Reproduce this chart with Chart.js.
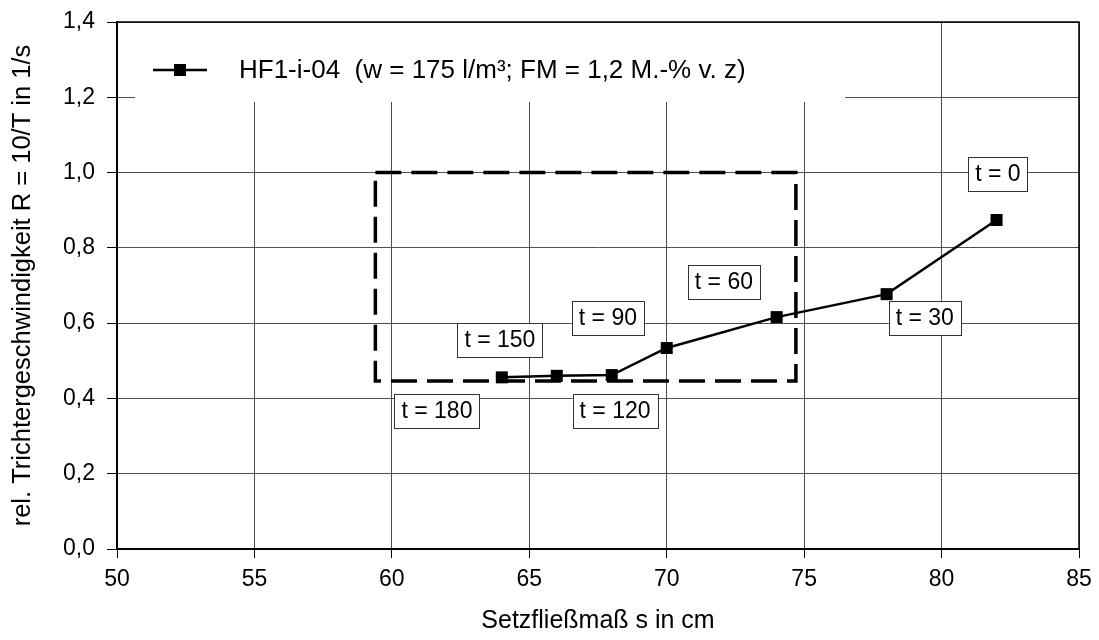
<!DOCTYPE html>
<html>
<head>
<meta charset="utf-8">
<script src="https://cdn.jsdelivr.net/npm/chart.js@4.4.1/dist/chart.umd.min.js"></script>
<style>
  html, body { margin: 0; padding: 0; background: #ffffff; }
  #wrap { width: 1099px; height: 640px; }
</style>
</head>
<body>
<div id="wrap"><canvas id="c" width="1099" height="640"></canvas></div>
<script>
// ---- data ----
const seriesName = "HF1-i-04  (w = 175 l/m³; FM = 1,2 M.-% v. z)";
const setzfliessmass = [64, 66, 68, 70, 74, 78, 82];          // x values (cm)
const trichterRate   = [0.456, 0.460, 0.462, 0.534, 0.616, 0.677, 0.874]; // y values (1/s)
const timeLabels     = ["t = 180", "t = 150", "t = 120", "t = 90", "t = 60", "t = 30", "t = 0"];
// label anchor positions in data units
const labelX = [61.64, 63.93, 68.12, 67.86, 72.08, 79.39, 82.05];
const labelY = [0.367, 0.555, 0.367, 0.614, 0.709, 0.614, 0.996];
// dashed region (data units)
const regionX = [59.4, 74.7];
const regionY = [0.446, 1.0];
const xTicks = { min: 50, max: 85, step: 5 };
const yTicks = { min: 0, max: 1.4, step: 0.2 };
const xTitle = "Setzfließmaß s in cm";
const yTitle = "rel. Trichtergeschwindigkeit R = 10/T in 1/s";

const FONT = "'Liberation Sans', Arial, sans-serif";
const points = setzfliessmass.map((x, i) => ({ x: x, y: trichterRate[i] }));

const decorPlugin = {
  id: 'decor',
  beforeDatasetsDraw(chart) {
    const ctx = chart.ctx;
    const xs = chart.scales.x, ys = chart.scales.y;
    const a = chart.chartArea;
    // plot frame
    ctx.save();
    ctx.strokeStyle = '#000';
    ctx.lineWidth = 1.5;
    ctx.strokeRect(a.left, a.top, a.right - a.left, a.bottom - a.top);
    ctx.restore();
    // legend box (white, hides grid)
    ctx.save();
    ctx.fillStyle = '#fff';
    ctx.fillRect(135, a.top + 1, 710, 79);
    // legend sample
    ctx.strokeStyle = '#000';
    ctx.lineWidth = 2.5;
    ctx.beginPath(); ctx.moveTo(153, 70); ctx.lineTo(207, 70); ctx.stroke();
    ctx.fillStyle = '#000';
    ctx.fillRect(174, 64, 12, 12);
    ctx.font = '26px ' + FONT;
    ctx.textBaseline = 'middle';
    ctx.textAlign = 'left';
    ctx.fillText(seriesName, 239, 71);
    ctx.restore();
    // dashed region
    ctx.save();
    ctx.strokeStyle = '#000';
    ctx.lineWidth = 3.5;
    ctx.setLineDash([26, 10]);
    const x0 = xs.getPixelForValue(regionX[0]), x1 = xs.getPixelForValue(regionX[1]);
    const y0 = ys.getPixelForValue(regionY[1]), y1 = ys.getPixelForValue(regionY[0]);
    ctx.strokeRect(x0, y0, x1 - x0, y1 - y0);
    ctx.restore();
  },
  afterDatasetsDraw(chart) {
    const ctx = chart.ctx;
    const xs = chart.scales.x, ys = chart.scales.y;
    ctx.save();
    ctx.font = '23px ' + FONT;
    ctx.textBaseline = 'middle';
    ctx.textAlign = 'center';
    timeLabels.forEach((t, i) => {
      const cx = xs.getPixelForValue(labelX[i]);
      const cy = ys.getPixelForValue(labelY[i]);
      const w = ctx.measureText(t).width + 14;
      const h = 34;
      ctx.fillStyle = '#fff';
      ctx.fillRect(cx - w / 2, cy - h / 2, w, h);
      ctx.strokeStyle = '#333';
      ctx.lineWidth = 1;
      ctx.strokeRect(Math.round(cx - w / 2) + 0.5, Math.round(cy - h / 2) + 0.5, Math.round(w), h);
      ctx.fillStyle = '#000';
      ctx.fillText(t, cx, cy + 1);
    });
    ctx.restore();
  }
};

new Chart(document.getElementById('c'), {
  type: 'scatter',
  data: {
    datasets: [{
      label: seriesName,
      data: points,
      showLine: true,
      borderColor: '#000',
      backgroundColor: '#000',
      borderWidth: 2.5,
      pointStyle: 'rect',
      pointRadius: 8.5,
      pointHoverRadius: 8.5,
      pointBorderWidth: 0,
      tension: 0
    }]
  },
  options: {
    responsive: false,
    animation: false,
    events: [],
    layout: { padding: { top: 22, right: 20, left: 0, bottom: 0 } },
    plugins: {
      legend: { display: false },
      tooltip: { enabled: false }
    },
    scales: {
      x: {
        type: 'linear',
        min: xTicks.min, max: xTicks.max,
        ticks: {
          stepSize: xTicks.step,
          color: '#000',
          font: { family: FONT, size: 23 },
          padding: 8,
          maxRotation: 0
        },
        grid: { color: '#505050', lineWidth: 1, tickLength: 9, tickColor: '#000' },
        border: { display: true, color: '#000', width: 2 },
        title: {
          display: true, text: xTitle, color: '#000',
          font: { family: FONT, size: 25 },
          padding: { top: 0, bottom: 4 }
        },
        afterFit(s) { s.height = 91; s.paddingLeft = 0; s.paddingRight = 0; }
      },
      y: {
        type: 'linear',
        min: yTicks.min, max: yTicks.max,
        ticks: {
          stepSize: yTicks.step,
          color: '#000',
          font: { family: FONT, size: 23 },
          padding: 12,
          callback: (v) => v.toFixed(1).replace('.', ',')
        },
        grid: { color: '#505050', lineWidth: 1, tickLength: 10, tickColor: '#000' },
        border: { display: true, color: '#000', width: 2 },
        title: {
          display: true, text: yTitle, color: '#000',
          font: { family: FONT, size: 25.5 },
          padding: { top: 8, bottom: 0 }
        },
        afterFit(s) { s.width = 117; s.paddingTop = 0; s.paddingBottom = 0; }
      }
    }
  },
  plugins: [decorPlugin]
});
</script>
</body>
</html>
